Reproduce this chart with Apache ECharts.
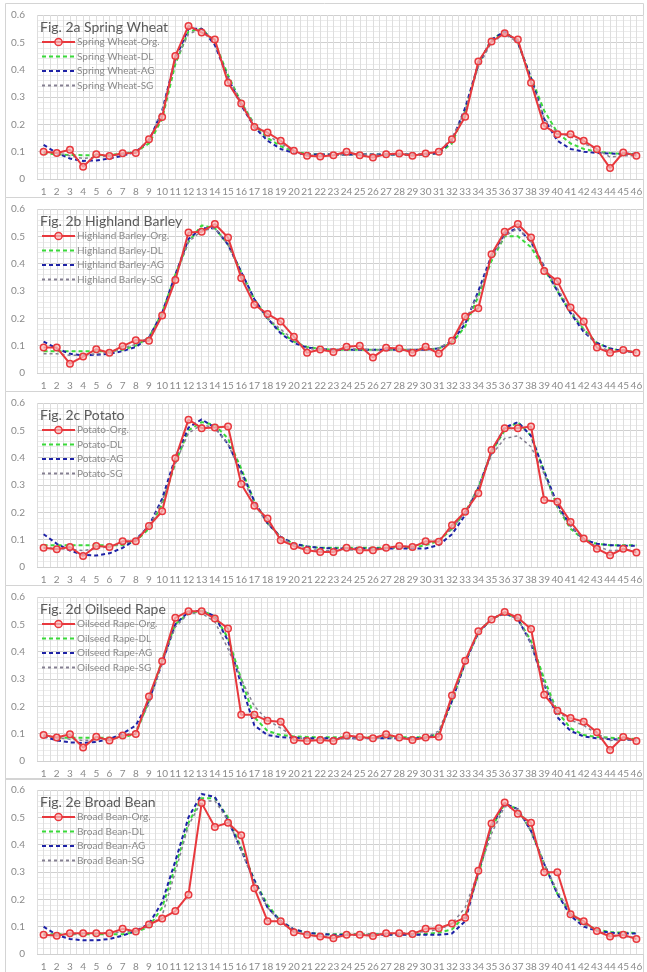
<!DOCTYPE html>
<html><head><meta charset="utf-8">
<script src="https://cdn.jsdelivr.net/npm/echarts@6/dist/echarts.min.js"></script>
<style>html,body{margin:0;padding:0;background:#fff}#c{width:647px;height:972px}</style>
</head><body><div id="c"></div>
<script>
const weeks = ['1','2','3','4','5','6','7','8','9','10','11','12','13','14','15','16','17','18','19','20','21','22','23','24','25','26','27','28','29','30','31','32','33','34','35','36','37','38','39','40','41','42','43','44','45','46'];
const figTitles = ['Fig. 2a Spring Wheat','Fig. 2b Highland Barley','Fig. 2c Potato','Fig. 2d Oilseed Rape','Fig. 2e Broad Bean'];
const crops = ['Spring Wheat','Highland Barley','Potato','Oilseed Rape','Broad Bean'];
const methods = ['Org.','DL','AG','SG'];

const wheatOrg = [0.10,0.095,0.107,0.045,0.091,0.084,0.094,0.095,0.145,0.227,0.45,0.56,0.536,0.51,0.352,0.276,0.19,0.17,0.14,0.103,0.085,0.082,0.087,0.10,0.087,0.079,0.091,0.093,0.085,0.093,0.10,0.145,0.228,0.43,0.503,0.533,0.51,0.352,0.194,0.164,0.164,0.14,0.109,0.04,0.097,0.085];
const wheatDL = [0.095,0.09,0.088,0.087,0.087,0.088,0.092,0.10,0.13,0.22,0.42,0.54,0.55,0.50,0.38,0.28,0.20,0.15,0.12,0.10,0.092,0.09,0.09,0.09,0.09,0.09,0.09,0.09,0.09,0.09,0.095,0.13,0.25,0.42,0.51,0.54,0.50,0.37,0.25,0.17,0.13,0.11,0.10,0.095,0.092,0.09];
const wheatAG = [0.125,0.095,0.075,0.066,0.068,0.075,0.085,0.10,0.14,0.25,0.44,0.55,0.55,0.49,0.37,0.27,0.19,0.14,0.11,0.095,0.09,0.09,0.09,0.09,0.09,0.09,0.09,0.09,0.09,0.09,0.095,0.14,0.26,0.42,0.51,0.54,0.50,0.37,0.22,0.14,0.11,0.10,0.095,0.093,0.092,0.092];
const wheatSG = [0.10,0.095,0.085,0.075,0.08,0.085,0.09,0.10,0.14,0.25,0.43,0.53,0.55,0.50,0.37,0.28,0.20,0.16,0.13,0.10,0.088,0.085,0.087,0.09,0.09,0.088,0.088,0.09,0.09,0.092,0.10,0.15,0.25,0.41,0.50,0.53,0.50,0.36,0.22,0.17,0.155,0.13,0.11,0.08,0.085,0.085];

const barleyOrg = [0.093,0.093,0.034,0.06,0.087,0.074,0.098,0.12,0.118,0.21,0.34,0.514,0.517,0.545,0.496,0.348,0.25,0.216,0.188,0.133,0.074,0.086,0.077,0.096,0.10,0.057,0.092,0.09,0.074,0.096,0.071,0.118,0.207,0.237,0.434,0.517,0.545,0.496,0.373,0.336,0.24,0.188,0.093,0.074,0.084,0.074];
const barleyDL = [0.08,0.08,0.08,0.08,0.08,0.08,0.085,0.10,0.13,0.22,0.36,0.48,0.54,0.53,0.47,0.37,0.27,0.20,0.15,0.115,0.095,0.088,0.085,0.085,0.085,0.085,0.085,0.085,0.085,0.085,0.09,0.11,0.17,0.28,0.41,0.50,0.50,0.46,0.38,0.30,0.22,0.16,0.11,0.09,0.08,0.077];
const barleyAG = [0.115,0.09,0.07,0.065,0.067,0.07,0.08,0.095,0.13,0.22,0.36,0.49,0.53,0.53,0.47,0.37,0.27,0.20,0.145,0.11,0.093,0.087,0.085,0.085,0.085,0.085,0.085,0.085,0.085,0.085,0.09,0.115,0.18,0.30,0.43,0.51,0.53,0.48,0.39,0.30,0.22,0.15,0.11,0.09,0.08,0.075];
const barleySG = [0.07,0.07,0.065,0.065,0.07,0.075,0.09,0.105,0.13,0.21,0.35,0.48,0.52,0.53,0.47,0.36,0.26,0.20,0.16,0.12,0.09,0.085,0.085,0.088,0.088,0.085,0.085,0.085,0.085,0.085,0.09,0.12,0.19,0.29,0.42,0.50,0.53,0.48,0.39,0.31,0.23,0.16,0.10,0.08,0.078,0.075];

const potatoOrg = [0.07,0.065,0.073,0.04,0.077,0.073,0.094,0.094,0.15,0.204,0.398,0.539,0.508,0.51,0.514,0.304,0.224,0.177,0.098,0.077,0.061,0.055,0.055,0.07,0.061,0.061,0.07,0.077,0.073,0.094,0.092,0.153,0.202,0.27,0.428,0.508,0.508,0.514,0.245,0.239,0.165,0.104,0.067,0.043,0.067,0.053];
const potatoDL = [0.08,0.08,0.08,0.08,0.08,0.08,0.08,0.095,0.14,0.23,0.38,0.50,0.53,0.52,0.47,0.36,0.24,0.16,0.11,0.085,0.075,0.07,0.07,0.07,0.07,0.07,0.07,0.07,0.07,0.08,0.095,0.14,0.20,0.29,0.42,0.50,0.53,0.48,0.35,0.22,0.14,0.10,0.085,0.08,0.08,0.08];
const potatoAG = [0.12,0.085,0.06,0.045,0.042,0.05,0.07,0.10,0.15,0.25,0.40,0.51,0.54,0.51,0.45,0.35,0.24,0.16,0.11,0.085,0.075,0.07,0.068,0.068,0.068,0.068,0.068,0.068,0.068,0.068,0.08,0.12,0.19,0.29,0.42,0.51,0.53,0.48,0.35,0.23,0.15,0.10,0.085,0.08,0.078,0.078];
const potatoSG = [0.07,0.068,0.065,0.06,0.068,0.075,0.085,0.10,0.15,0.24,0.38,0.49,0.52,0.51,0.45,0.34,0.23,0.16,0.11,0.08,0.066,0.06,0.06,0.062,0.062,0.063,0.068,0.074,0.078,0.085,0.10,0.14,0.20,0.29,0.41,0.47,0.48,0.44,0.34,0.22,0.15,0.10,0.075,0.06,0.062,0.06];

const rapeOrg = [0.095,0.086,0.098,0.049,0.089,0.075,0.093,0.099,0.236,0.365,0.524,0.548,0.548,0.521,0.485,0.169,0.169,0.147,0.144,0.077,0.073,0.077,0.073,0.093,0.088,0.083,0.098,0.086,0.077,0.086,0.089,0.24,0.367,0.475,0.518,0.545,0.524,0.483,0.242,0.184,0.157,0.144,0.105,0.04,0.088,0.073];
const rapeDL = [0.09,0.085,0.085,0.085,0.085,0.085,0.085,0.10,0.22,0.37,0.50,0.54,0.55,0.53,0.45,0.30,0.16,0.11,0.095,0.09,0.088,0.087,0.087,0.087,0.087,0.087,0.087,0.087,0.087,0.087,0.10,0.22,0.36,0.47,0.52,0.54,0.52,0.44,0.30,0.18,0.12,0.095,0.088,0.085,0.083,0.08];
const rapeAG = [0.09,0.075,0.068,0.066,0.07,0.08,0.10,0.13,0.22,0.36,0.50,0.545,0.55,0.53,0.44,0.28,0.13,0.095,0.087,0.085,0.083,0.083,0.083,0.083,0.083,0.083,0.083,0.083,0.083,0.083,0.10,0.22,0.36,0.47,0.52,0.54,0.52,0.43,0.28,0.16,0.11,0.09,0.083,0.08,0.078,0.077];
const rapeSG = [0.09,0.085,0.08,0.075,0.078,0.082,0.09,0.11,0.21,0.36,0.49,0.54,0.54,0.51,0.41,0.30,0.20,0.15,0.12,0.09,0.078,0.078,0.08,0.082,0.083,0.084,0.085,0.085,0.085,0.085,0.11,0.23,0.36,0.47,0.52,0.54,0.52,0.43,0.28,0.18,0.15,0.13,0.10,0.075,0.078,0.077];

const beanOrg = [0.07,0.067,0.076,0.076,0.076,0.076,0.092,0.082,0.108,0.13,0.157,0.217,0.552,0.465,0.48,0.434,0.241,0.12,0.12,0.08,0.07,0.064,0.058,0.07,0.07,0.066,0.076,0.076,0.073,0.092,0.094,0.112,0.133,0.305,0.477,0.554,0.513,0.48,0.299,0.299,0.145,0.12,0.084,0.064,0.07,0.055];
const beanDL = [0.072,0.072,0.072,0.072,0.072,0.072,0.072,0.08,0.10,0.17,0.32,0.48,0.57,0.57,0.50,0.39,0.27,0.18,0.12,0.09,0.078,0.073,0.072,0.072,0.072,0.072,0.072,0.072,0.072,0.073,0.078,0.09,0.14,0.29,0.46,0.55,0.53,0.45,0.33,0.22,0.15,0.11,0.09,0.08,0.078,0.077];
const beanAG = [0.10,0.07,0.055,0.05,0.05,0.055,0.067,0.085,0.11,0.19,0.34,0.50,0.585,0.575,0.49,0.38,0.27,0.17,0.12,0.09,0.078,0.073,0.07,0.07,0.07,0.07,0.07,0.07,0.07,0.07,0.07,0.075,0.12,0.30,0.47,0.55,0.53,0.45,0.33,0.22,0.14,0.10,0.085,0.078,0.075,0.075];
const beanSG = [0.07,0.07,0.072,0.075,0.076,0.078,0.08,0.085,0.10,0.14,0.30,0.47,0.56,0.56,0.49,0.38,0.26,0.17,0.115,0.085,0.07,0.065,0.066,0.068,0.07,0.072,0.074,0.076,0.078,0.082,0.09,0.11,0.17,0.30,0.44,0.54,0.53,0.45,0.33,0.23,0.15,0.11,0.085,0.07,0.065,0.06];

const panelData = [
  [wheatOrg, wheatDL, wheatAG, wheatSG],
  [barleyOrg, barleyDL, barleyAG, barleySG],
  [potatoOrg, potatoDL, potatoAG, potatoSG],
  [rapeOrg, rapeDL, rapeAG, rapeSG],
  [beanOrg, beanDL, beanAG, beanSG]
];

const chart = echarts.init(document.getElementById('c'), null, {renderer: 'canvas'});
const FONT = 'Lato, "Open Sans", sans-serif';
const tops = [15, 209, 403, 597, 790];
const H = 164;
const gridLeft = 37, gridRight = 4;

const grids = [], xAxes = [], yAxes = [], series = [], legends = [], titles = [], graphics = [];
const styles = [
  {color: '#E8383D', type: 'solid', width: 2},
  {color: '#3BD93B', type: [4, 3], width: 2},
  {color: '#1E22A6', type: [4, 3], width: 2},
  {color: '#858092', type: [3, 3], width: 1.5}
];
const orgItem = {color: 'rgba(250,190,190,0.7)', borderColor: '#E8383D', borderWidth: 1.5};
const hiddenItem = {color: 'rgba(0,0,0,0)', borderColor: 'rgba(0,0,0,0)', borderWidth: 0, opacity: 0};

tops.forEach((t, k) => {
  graphics.push({type: 'rect', shape: {x: 5.5, y: t - 11.5, width: 638, height: H + 30}, style: {fill: 'none', stroke: '#d4d4d4', lineWidth: 1}, silent: true, z: -10});
  grids.push({left: gridLeft, right: gridRight, top: t, height: H, containLabel: false});
  xAxes.push({
    type: 'category', gridIndex: k, data: weeks, boundaryGap: true,
    axisLine: {show: false}, axisTick: {show: false},
    axisLabel: {interval: 0, fontSize: 10, color: '#8a8a8a', fontFamily: FONT, margin: 8},
    splitLine: {show: false}
  });
  xAxes.push({
    type: 'value', gridIndex: k, min: 0, max: 46, interval: 0.5,
    axisLine: {show: false}, axisTick: {show: false}, axisLabel: {show: false},
    splitLine: {show: true, lineStyle: {color: '#dedede', width: 1}}
  });
  yAxes.push({
    type: 'value', gridIndex: k, min: 0, max: 0.6, interval: 0.1,
    axisLine: {show: false}, axisTick: {show: false},
    axisLabel: {fontSize: 10, color: '#8a8a8a', fontFamily: FONT, margin: 12},
    splitLine: {show: true, lineStyle: {color: '#d0d0d0', width: 1}},
    minorTick: {show: false, splitNumber: 5},
    minorSplitLine: {show: true, lineStyle: {color: '#ececec', width: 1}}
  });
  const names = methods.map(m => crops[k] + '-' + m);
  panelData[k].forEach((arr, j) => {
    const st = styles[j];
    const s = {
      name: names[j], type: 'line', xAxisIndex: 2 * k, yAxisIndex: k, data: arr,
      lineStyle: {color: st.color, type: st.type, width: st.width},
      itemStyle: j === 0 ? orgItem : {color: st.color},
      showSymbol: j === 0, symbol: j === 0 ? 'circle' : 'none', symbolSize: 6.5,
      z: j === 0 ? 5 : (j === 3 ? 4 : (j === 1 ? 2 : 3)),
      animation: false
    };
    series.push(s);
  });
  legends.push({
    orient: 'vertical', left: 41, top: t + 22, itemWidth: 33, itemHeight: 9, itemGap: 4.5,
    data: names.map((n, j) => j === 0 ? {name: n, itemStyle: orgItem} : {name: n, itemStyle: hiddenItem}),
    textStyle: {fontSize: 10, color: '#8a8a8a', fontFamily: FONT, padding: [0, 0, 0, -3]},
    selectedMode: false, padding: 0
  });
  titles.push({
    text: figTitles[k], left: 40, top: t + 5, padding: 0,
    textStyle: {fontSize: 14, fontWeight: 'normal', color: '#5a5a5a', fontFamily: FONT}
  });
});

chart.setOption({
  animation: false,
  backgroundColor: '#fff',
  title: titles,
  legend: legends,
  grid: grids,
  xAxis: xAxes,
  yAxis: yAxes,
  series: series,
  graphic: graphics
});
</script>
</body></html>
